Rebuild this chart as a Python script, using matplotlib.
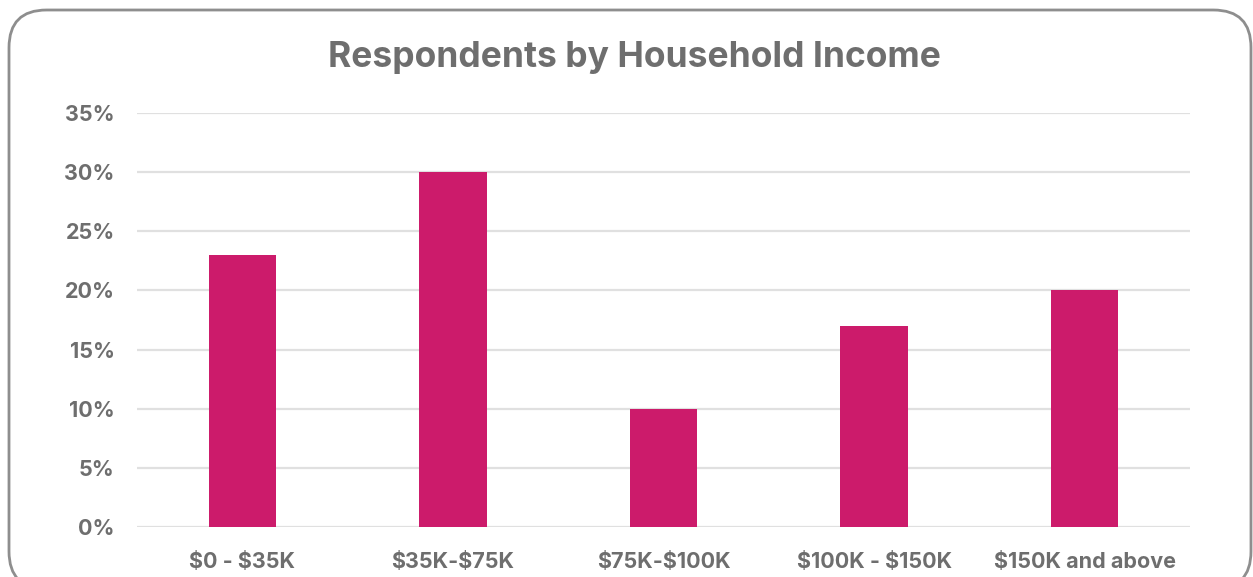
import matplotlib
matplotlib.use("Agg")
import matplotlib.pyplot as plt
from matplotlib.patches import FancyBboxPatch
from matplotlib.ticker import FuncFormatter

categories = ["$0 - $35K", "$35K-$75K", "$75K-$100K", "$100K - $150K", "$150K and above"]
shares = [23, 30, 10, 17, 20]
y_ticks = [0, 5, 10, 15, 20, 25, 30, 35]

W, H, DPI = 1253, 577, 100
bar_color = "#CC1B6B"
text_color = "#6E6E6E"
grid_color = "#E0E0E0"

plt.rcParams["font.family"] = ["Inter", "DejaVu Sans"]
plt.rcParams["text.parse_math"] = False

fig = plt.figure(figsize=(W / DPI, H / DPI), dpi=DPI)
fig.patch.set_facecolor("white")

# rounded frame around the whole chart
frame = FancyBboxPatch((9 / W, -12 / H), (1242) / W, (H - 10 + 12) / H,
                       boxstyle="round,pad=0,rounding_size=0.03",
                       transform=fig.transFigure, facecolor="none",
                       edgecolor="#8E8E8E", linewidth=2.0, mutation_aspect=W / H,
                       zorder=-1)
fig.patches.append(frame)

ax = fig.add_axes([137 / W, (H - 527) / H, (1190 - 137) / W, (527 - 113) / H])
ax.set_facecolor("none")
x = range(len(categories))
ax.bar(x, shares, width=0.32, color=bar_color, zorder=3)
ax.set_xlim(-0.5, len(categories) - 0.5)
ax.set_ylim(0, 35)
ax.set_yticks(y_ticks)
ax.yaxis.set_major_formatter(FuncFormatter(lambda v, p: f"{int(v)}%"))
ax.set_xticks(list(x))
ax.set_xticklabels(categories)
ax.grid(axis="y", color=grid_color, linewidth=1.6, zorder=0)
ax.set_axisbelow(True)
for s in ax.spines.values():
    s.set_visible(False)
ax.tick_params(axis="both", length=0, labelcolor=text_color, labelsize=15.5)
ax.tick_params(axis="y", pad=16)
ax.tick_params(axis="x", pad=18)
for lbl in ax.get_xticklabels() + ax.get_yticklabels():
    lbl.set_fontweight("bold")

fig.text(634 / W, 1 - 58 / H, "Respondents by Household Income", ha="center", va="center",
         fontsize=25.5, fontweight="bold", color=text_color)

fig.savefig("out.png", dpi=DPI)
